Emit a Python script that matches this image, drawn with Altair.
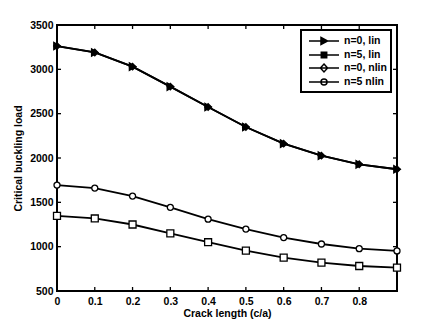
import altair as alt
import pandas as pd

crack = [0.0, 0.1, 0.2, 0.3, 0.4, 0.5, 0.6, 0.7, 0.8, 0.9]
n0_lin = [3263, 3190, 3030, 2805, 2575, 2350, 2162, 2026, 1929, 1873]
n5_lin = [1348, 1318, 1250, 1150, 1050, 955, 877, 820, 782, 763]
n0_nlin = [3263, 3190, 3030, 2805, 2575, 2350, 2162, 2026, 1929, 1873]
n5_nlin = [1695, 1661, 1571, 1444, 1310, 1198, 1102, 1030, 977, 952]
names = ["n=0, lin", "n=5, lin", "n=0, nlin", "n=5 nlin"]
series_vals = [n0_lin, n5_lin, n0_nlin, n5_nlin]
x_ticks = [0, 0.1, 0.2, 0.3, 0.4, 0.5, 0.6, 0.7, 0.8]
y_ticks = [500, 1000, 1500, 2000, 2500, 3000, 3500]

rows = []
for nm, vals in zip(names, series_vals):
    for c, v in zip(crack, vals):
        rows.append({"c": c, "v": v, "series": nm, "lg": nm})
df = pd.DataFrame(rows)
xt_df = pd.DataFrame({"c": x_ticks})
yt_df = pd.DataFrame({"v": y_ticks})

W, H = 340, 266
TL = 4  # tick length
FONT = "Liberation Sans"
FS = 10.5

marker_shapes = ["triangle-right", "square", "diamond", "circle"]
marker_fills = ["black", "white", "black", "white"]
marker_sizes = [55, 36, 55, 45]

line_seg = "M-2.5,0H2.5"
legend_paths = [
    line_seg + "M-0.5,-0.6L0.6,0L-0.5,0.6Z",
    line_seg + "M-0.45,-0.45H0.45V0.45H-0.45Z",
    line_seg + "M0,-0.65L0.6,0L0,0.65L-0.6,0Z",
    line_seg + "M-0.5,0A0.5,0.5,0,1,0,0.5,0A0.5,0.5,0,1,0,-0.5,0Z",
]
legend_fills = ["black", "black", "white", "white"]
legend_strokes = ["black", "black", "black", "black"]

xs = alt.Scale(domain=[0, 0.9], nice=False, zero=False)
ys = alt.Scale(domain=[500, 3500], nice=False, zero=False)

axis_style = dict(domain=False, grid=False, ticks=False, labelFont=FONT, labelFontSize=FS,
                  labelFontWeight="bold", labelColor="black", titleFont=FONT,
                  titleFontSize=FS, titleFontWeight="bold", titleColor="black")

x_axis = alt.Axis(orient="bottom", values=x_ticks, format="~g", title="Crack length (c/a)",
                  labelPadding=5, titlePadding=2, labelFlush=False, **axis_style)
y_axis = alt.Axis(orient="left", values=y_ticks, format="d", title="Critical buckling load",
                  labelPadding=4, titlePadding=6, labelFlush=False, **axis_style)


def X():
    return alt.X("c:Q", scale=xs, axis=x_axis)


def Y():
    return alt.Y("v:Q", scale=ys, axis=y_axis)


base = alt.Chart(df)

lines = base.mark_line(color="black", strokeWidth=1.8).encode(
    x=X(), y=Y(), detail="series:N"
)

points = base.mark_point(filled=True, stroke="black", strokeWidth=1.3, opacity=1).encode(
    x=X(),
    y=Y(),
    shape=alt.Shape("series:N", scale=alt.Scale(domain=names, range=marker_shapes), legend=None),
    fill=alt.Fill("series:N", scale=alt.Scale(domain=names, range=marker_fills), legend=None),
    size=alt.Size("series:N", scale=alt.Scale(domain=names, range=marker_sizes), legend=None),
)

tick_style = dict(color="black", strokeWidth=1.3)
xt_bot = alt.Chart(xt_df).mark_rule(**tick_style).encode(
    x=X(), y=alt.value(H), y2=alt.value(H - TL))
xt_top = alt.Chart(xt_df).mark_rule(**tick_style).encode(
    x=X(), y=alt.value(0), y2=alt.value(TL))
yt_left = alt.Chart(yt_df).mark_rule(**tick_style).encode(
    y=Y(), x=alt.value(0), x2=alt.value(TL))
yt_right = alt.Chart(yt_df).mark_rule(**tick_style).encode(
    y=Y(), x=alt.value(W), x2=alt.value(W - TL))

leg = alt.Legend(
    title=None, orient="none", legendX=244, legendY=5,
    strokeColor="black", fillColor="white", padding=4,
    labelFont=FONT, labelFontSize=FS, labelFontWeight="bold", labelColor="black",
    symbolSize=144, symbolStrokeColor="black", symbolStrokeWidth=1.5, symbolOpacity=1,
    symbolOffset=12, labelOffset=13, rowPadding=0,
)

legend_layer = base.transform_filter("false").mark_point(filled=True, strokeWidth=1.5).encode(
    x=X(),
    y=Y(),
    shape=alt.Shape("lg:N", scale=alt.Scale(domain=names, range=legend_paths), legend=leg),
    fill=alt.Fill("lg:N", scale=alt.Scale(domain=names, range=legend_fills), legend=leg),
    stroke=alt.Stroke("lg:N", scale=alt.Scale(domain=names, range=legend_strokes), legend=leg),
)

chart = alt.layer(lines, points, xt_bot, xt_top, yt_left, yt_right, legend_layer).resolve_scale(
    shape="independent", fill="independent", stroke="independent"
).properties(
    width=W, height=H, padding={"left": 5, "top": 12, "right": 5, "bottom": 5}
).configure_view(
    stroke="black", strokeWidth=2
).configure_legend(strokeWidth=2)

chart.save("out.html", embed_options={"renderer": "svg", "actions": False})
